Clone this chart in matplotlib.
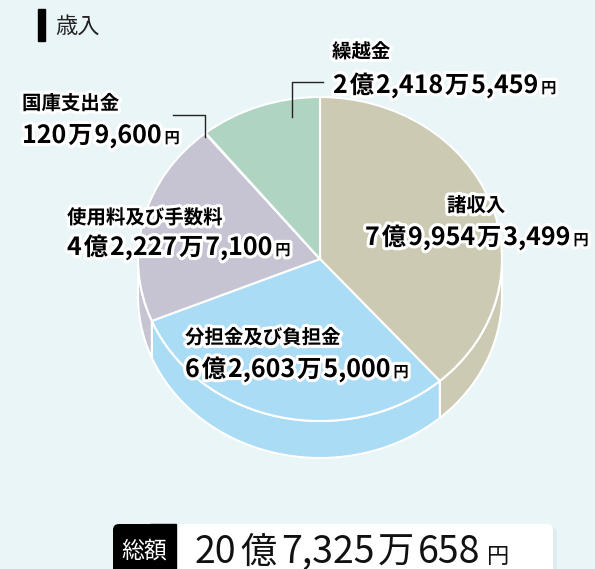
import numpy as np
import matplotlib
matplotlib.use('Agg')
import matplotlib.pyplot as plt
import matplotlib.patheffects as pe
from matplotlib.patches import Polygon, Rectangle, FancyBboxPatch

# data (yen)
names = ['諸収入', '分担金及び負担金', '使用料及び手数料', '国庫支出金', '繰越金']
values = [799543499, 626035000, 422277100, 1209600, 224185459]
colors = ['#cdcab3', '#abdcf5', '#c6c4d3', '#dcdcdc', '#b0d4c2']
title = '歳入'
total_label = '総額'

# label layout in pixels: (name x, name center y, value x, value baseline y)
label_pos = [(447, 206, 365, 245),
             (185, 338, 185, 377),
             (67, 218, 67, 255),
             (22, 104, 22, 143),
             (332, 52, 333, 93)]

BG = '#eaf5f8'
JP = 'Noto Sans CJK JP'


def yen_parts(v):
    oku, rest = divmod(v, 10**8)
    man, yen = divmod(rest, 10**4)
    out = []
    if oku:
        out += [(str(oku), 'num'), ('億', 'kanji')]
    if man:
        out += [(f'{man:,}', 'num'), ('万', 'kanji')]
    if yen:
        out += [(f'{yen:,}', 'num')]
    out.append(('円', 'yen'))
    return out


fig = plt.figure(figsize=(5.95, 5.69), dpi=100, facecolor=BG)

# pie axes: unit circle squashed into an ellipse, centre (320, 259) px
rx, ry, depth = 182, 162, 37
pax = fig.add_axes([0, 0, 1, 1])
wedges, _ = pax.pie(values, colors=colors, startangle=90, counterclock=False,
                    wedgeprops=dict(edgecolor='white', linewidth=1.5, zorder=3))
pax.set_aspect('auto')
pax.set_xlim(-320 / rx, 275 / rx)
pax.set_ylim(-310 / ry, 259 / ry)
pax.axis('off')

# side walls for the front half
d = depth / ry
for w, c in zip(wedges, colors):
    a, b = w.theta1, w.theta2
    for k in (-1, 0, 1):
        lo = max(a, 180 + 360 * k)
        hi = min(b, 360 + 360 * k)
        if hi <= lo:
            continue
        t = np.radians(np.linspace(lo, hi, 80))
        top = np.column_stack([np.cos(t), np.sin(t)])
        bot = np.column_stack([np.cos(t), np.sin(t) - d])[::-1]
        pax.add_patch(Polygon(np.vstack([top, bot]), closed=True, facecolor=c,
                              edgecolor='white', linewidth=1.5, zorder=1))

# overlay axes in pixel coords for text
ax = fig.add_axes([0, 0, 1, 1])
ax.set_xlim(0, 595)
ax.set_ylim(569, 0)
ax.axis('off')
ax.patch.set_alpha(0)

renderer = fig.canvas.get_renderer()
halo = [pe.withStroke(linewidth=4.5, foreground='white')]


def draw_parts(x, y, parts, styles, effects=None, color='black'):
    for s, kind in parts:
        size, weight, gap = styles[kind]
        x += gap
        t = ax.text(x, y, s, fontsize=size, family=JP, fontweight=weight,
                    color=color, ha='left', va='baseline', path_effects=effects)
        x += t.get_window_extent(renderer=renderer).width + gap
    return x


label_styles = {'num': (18, 'bold', 0),
                'kanji': (17.5, 'bold', 2),
                'yen': (11, 'bold', 3)}

for name, v, (nx, ny, vx, vy) in zip(names, values, label_pos):
    ax.text(nx, ny, name, fontsize=14, family=JP, fontweight='bold',
            ha='left', va='center', path_effects=halo)
    draw_parts(vx, vy, yen_parts(v), label_styles, effects=halo)

# leader lines
ax.plot([292, 292, 323], [117, 82, 82], color='#222222', lw=1)
ax.plot([173, 205, 205], [115, 115, 137], color='#222222', lw=1)

# title
ax.add_patch(Rectangle((38, 9), 7, 32, color='black'))
ax.text(55, 26, title, fontsize=16, family=JP, ha='left', va='center', color='#222222')

# total box
ax.add_patch(FancyBboxPatch((117, 527), 440, 60, boxstyle='round,pad=0,rounding_size=6',
                            facecolor='#d8e6ea', edgecolor='none', alpha=0.6))
ax.add_patch(FancyBboxPatch((113, 524), 440, 60, boxstyle='round,pad=0,rounding_size=6',
                            facecolor='white', edgecolor='none'))
ax.add_patch(FancyBboxPatch((113, 524), 63, 60, boxstyle='round,pad=0,rounding_size=6',
                            facecolor='black', edgecolor='none'))
ax.add_patch(Rectangle((150, 524), 26, 60, color='black'))
ax.text(144.5, 551, total_label, fontsize=16.5, family=JP, color='white',
        ha='center', va='center')

total_styles = {'num': (27, 'normal', 0),
                'kanji': (26, 'normal', 4),
                'yen': (16, 'normal', 6)}
draw_parts(195, 563, yen_parts(sum(values)), total_styles, color='#111111')

fig.savefig('out.png', dpi=100, facecolor=BG)
